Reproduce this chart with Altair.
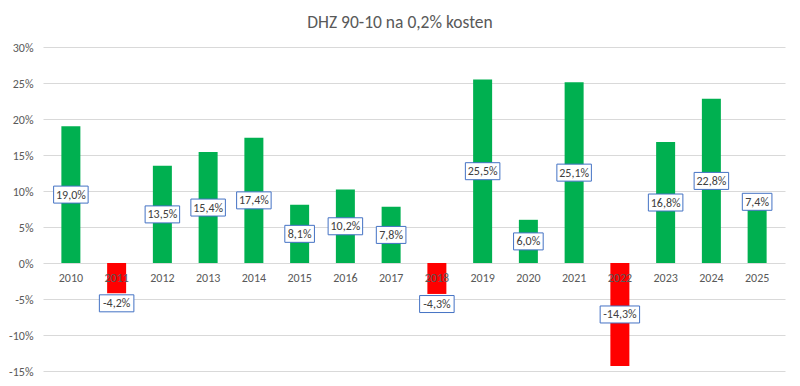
import altair as alt
import pandas as pd

years = list(range(2010, 2026))
returns = [19.0, -4.2, 13.5, 15.4, 17.4, 8.1, 10.2, 7.8, -4.3, 25.5, 6.0, 25.1, -14.3, 16.8, 22.8, 7.4]
y_ticks = [-15, -10, -5, 0, 5, 10, 15, 20, 25, 30]
title_text = "DHZ 90-10 na 0,2% kosten"

GREEN = "#00B050"
RED = "#FF0000"
GRAY = "#595959"
FONT = "Carlito, Lato, sans-serif"

W, H = 742, 324
x_dom = [2009.5, 2025.5]
y_dom = [-15, 30]
px_x = W / (x_dom[1] - x_dom[0])
px_y = H / (y_dom[1] - y_dom[0])
BOX_H = 17


def fmt(v):
    return f"{v:.1f}".replace(".", ",") + "%"


def anchor(year, v):
    # Excel-like label placement: centered, but short negatives pushed below
    if year == 2025:
        return v + 1.1
    if -6 < v < 0:
        return v - 1.4
    return v / 2


labels = [fmt(v) for v in returns]
df = pd.DataFrame({"year": years, "ret": returns, "label": labels})
df["color"] = [GREEN if v >= 0 else RED for v in returns]
df["ly"] = [anchor(y, v) for y, v in zip(years, returns)]
df["bw"] = [5 * len(l) + 10 for l in labels]
df["bx"] = df["year"] - df["bw"] / 2 / px_x
df["bx2"] = df["year"] + df["bw"] / 2 / px_x
df["by"] = df["ly"] - BOX_H / 2 / px_y
df["by2"] = df["ly"] + BOX_H / 2 / px_y
df["zero"] = 0

xs = alt.Scale(domain=x_dom, nice=False, zero=False)
ys = alt.Scale(domain=y_dom, nice=False)
yaxis = alt.Axis(
    values=y_ticks,
    labelExpr="datum.value + '%'",
    labelOverlap=False,
    ticks=False,
    domain=False,
    grid=True,
    gridColor="#d9d9d9",
    gridWidth=1,
    labelColor=GRAY,
    labelFontSize=12,
    labelFont=FONT,
    labelPadding=10,
    title=None,
)

base = alt.Chart(df)

bars = base.mark_bar(width=19).encode(
    x=alt.X("year:Q", scale=xs, axis=None),
    y=alt.Y("ret:Q", scale=ys, axis=yaxis),
    y2=alt.Y2("zero:Q"),
    color=alt.Color("color:N", scale=None),
)

year_text = base.mark_text(dy=15, fontSize=12, color=GRAY, font=FONT).encode(
    x=alt.X("year:Q", scale=xs, axis=None),
    y=alt.Y("zero:Q", scale=ys, axis=yaxis),
    text=alt.Text("year:N"),
)

boxes = base.mark_rect(fill="white", stroke="#4472C4", strokeWidth=1).encode(
    x=alt.X("bx:Q", scale=xs, axis=None),
    x2="bx2:Q",
    y=alt.Y("by:Q", scale=ys, axis=yaxis),
    y2="by2:Q",
)

box_text = base.mark_text(fontSize=12, color="#404040", font=FONT).encode(
    x=alt.X("year:Q", scale=xs, axis=None),
    y=alt.Y("ly:Q", scale=ys, axis=yaxis),
    text="label:N",
)

chart = (
    alt.layer(bars, year_text, boxes, box_text)
    .properties(
        width=W,
        height=H,
        autosize=alt.AutoSizeParams(type="none"),
        padding={"left": 35, "top": 39, "right": 7, "bottom": 7},
        background="white",
        title=alt.TitleParams(
            title_text,
            anchor="middle",
            dx=-14,
            offset=10,
            fontSize=17.5,
            fontWeight="normal",
            color=GRAY,
            font=FONT,
        ),
    )
    .configure_view(stroke=None)
)

chart.save("out.html", embed_options={"renderer": "svg", "actions": False})
